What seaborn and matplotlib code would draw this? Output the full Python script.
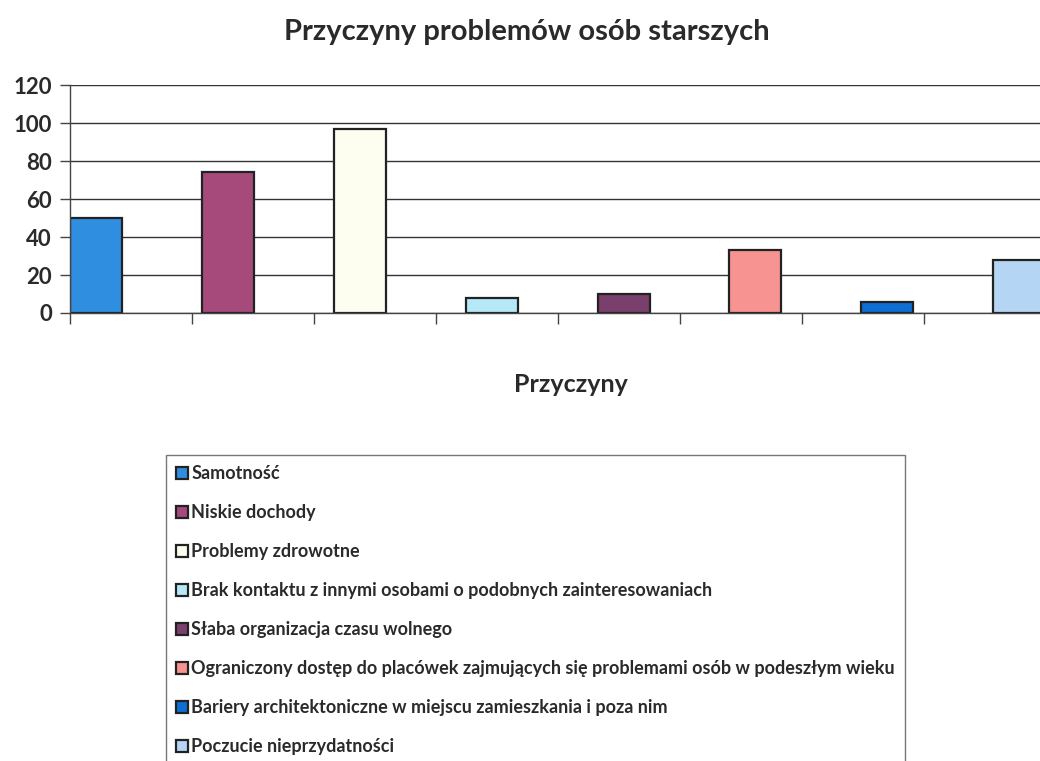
import numpy as np
import seaborn as sns
import matplotlib.pyplot as plt

sns.set_style("white")
plt.rcParams['font.family'] = ['Lato', 'DejaVu Sans']

# data
categories = [
    "Samotność",
    "Niskie dochody",
    "Problemy zdrowotne",
    "Brak kontaktu z innymi osobami o podobnych zainteresowaniach",
    "Słaba organizacja czasu wolnego",
    "Ograniczony dostęp do placówek zajmujących się problemami osób w podeszłym wieku",
    "Bariery architektoniczne w miejscu zamieszkania i poza nim",
    "Poczucie nieprzydatności",
]
values = [50, 74, 97, 8, 10, 33, 6, 28]
colors = ["#2f8ee0", "#a64a7c", "#fdfdf0", "#b6e9f7",
          "#7a3f6d", "#f79492", "#0e6fd2", "#b5d5f5"]
y_ticks = [0, 20, 40, 60, 80, 100, 120]

fig = plt.figure(figsize=(10.4, 7.61), dpi=100)
# axes runs past the right edge, like the cropped scan
ax = fig.add_axes([0.0673, 0.5887, 0.9635, 0.2996])

sns.barplot(x=categories, y=values, hue=categories, palette=colors,
            saturation=1, width=0.394, edgecolor="#222222", linewidth=1.6,
            legend=True, ax=ax)

ax.set_xlim(-0.197, 7.4)
ax.set_ylim(0, 120)
ax.set_yticks(y_ticks)
ax.set_yticklabels([str(t) for t in y_ticks], fontsize=16, fontweight='bold',
                   color='#2a2a2a')
ax.set_xticks(-0.197 + 0.925 * np.arange(9))
ax.set_xticklabels([])
ax.tick_params(axis='x', bottom=True, direction='out', length=8, width=1,
               color='#444444')
ax.tick_params(axis='y', left=True, direction='out', length=7, width=1,
               color='#444444', pad=6)

ax.yaxis.grid(True, color='#333333', linewidth=1)
ax.set_axisbelow(True)
for side, spine in ax.spines.items():
    if side in ['left', 'bottom']:
        spine.set_visible(True)
        spine.set_color('#444444')
        spine.set_linewidth(1)
    else:
        spine.set_visible(False)

ax.set_xlabel("Przyczyny", fontsize=18, fontweight='bold', color='#2a2a2a',
              labelpad=32)
ax.set_ylabel("")
fig.text(0.507, 0.958, "Przyczyny problemów osób starszych", ha='center',
         va='center', fontsize=21, fontweight='bold', color='#2a2a2a')

handles, labels = ax.get_legend_handles_labels()
ax.get_legend().remove()
leg = fig.legend(handles, labels, loc='upper left',
                 bbox_to_anchor=(166 / 1040, 1 - 455 / 761),
                 bbox_transform=fig.transFigure,
                 prop={'family': ['Lato', 'DejaVu Sans'], 'weight': 'bold', 'size': 13},
                 handlelength=0.65, handleheight=0.65, handletextpad=0.2,
                 labelspacing=1.22, borderpad=0.55, borderaxespad=0,
                 fancybox=False, frameon=True, edgecolor='#555555')
leg.get_frame().set_linewidth(1)
for t in leg.get_texts():
    t.set_color('#2a2a2a')

fig.savefig("out.png", dpi=100)
